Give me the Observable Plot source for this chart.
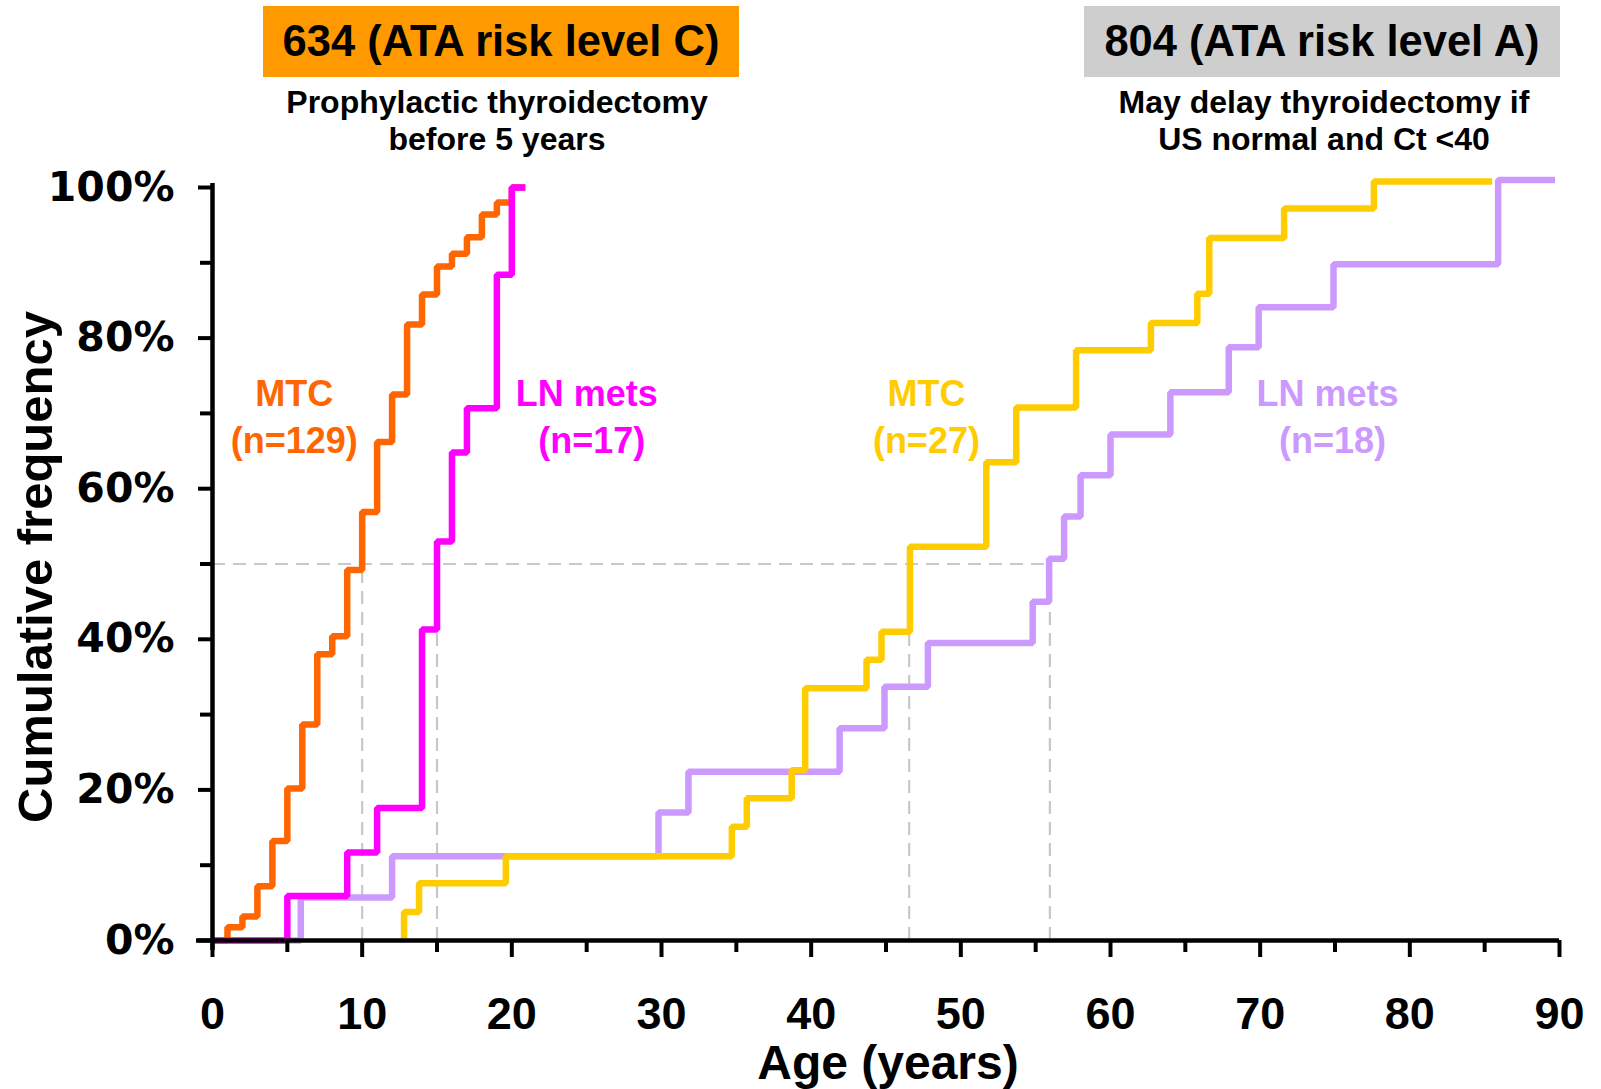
<!DOCTYPE html>
<html>
<head>
<meta charset="utf-8">
<script src="https://cdn.jsdelivr.net/npm/d3@7"></script>
<script src="https://cdn.jsdelivr.net/npm/@observablehq/plot@0.6"></script>
<style>
  html, body { margin: 0; padding: 0; background: #fff; }
  body { font-family: "Liberation Sans", Arial, sans-serif; }
  #wrap { position: relative; width: 1601px; height: 1089px; overflow: hidden; }
  #header { position: relative; width: 1601px; height: 160px; }
  .box { position: absolute; top: 6px; height: 71px; width: 476px; display: flex; align-items: center; justify-content: center;
         font-weight: bold; font-size: 43.5px; color: #000; }
  .sub { position: absolute; top: 84px; width: 560px; text-align: center; font-weight: bold; font-size: 32px; line-height: 37px; color: #000; }
  #chart svg { display: block; }
</style>
</head>
<body>
<div id="wrap">
  <div id="header">
    <div class="box" style="left:263px;background:#FF9900;">634 (ATA risk level C)</div>
    <div class="sub" style="left:217px;">Prophylactic thyroidectomy<br>before 5 years</div>
    <div class="box" style="left:1084px;background:#CECECE;">804 (ATA risk level A)</div>
    <div class="sub" style="left:1044px;">May delay thyroidectomy if<br>US normal and Ct &lt;40</div>
  </div>
  <div id="chart"></div>
</div>
<script>
// ---- Axis ticks ----
const xTicksMajor = [0, 10, 20, 30, 40, 50, 60, 70, 80, 90];
const xTicksMinor = [5, 15, 25, 35, 45, 55, 65, 75, 85];
const yTicksMajor = [0, 20, 40, 60, 80, 100];
const yTicksMinor = [10, 30, 50, 70, 90];

// ---- 634 MTC (n=129), orange ----
const mtc634Start = 0;
const mtc634Ages   = [1, 2, 3, 4, 5, 6, 7, 8, 9, 10, 11, 12, 13, 14, 15, 16, 17, 18, 19, 20];
const mtc634Values = [1.75, 3.2, 7.2, 13.2, 20.2, 28.7, 38.0, 40.4, 49.2, 56.9, 66.2, 72.5, 81.8, 85.8, 89.5, 91.2, 93.4, 96.4, 98.0, 100];
const mtc634End = 20.9;

// ---- 634 LN mets (n=17), magenta ----
const ln634Start = 0;
const ln634Ages   = [5, 9, 11, 14, 15, 16, 17, 19, 20];
const ln634Values = [5.9, 11.7, 17.6, 41.3, 53.0, 64.8, 70.7, 88.4, 100];
const ln634End = 20.9;

// ---- 804 MTC (n=27), yellow ----
const mtc804Start = 12.8;
const mtc804Ages   = [12.8, 13.8, 19.6, 34.7, 35.7, 38.7, 39.6, 43.7, 44.7, 46.6, 51.7, 53.7, 57.7, 62.7, 65.8, 66.6, 71.6, 77.6];
const mtc804Values = [3.8, 7.6, 11.2, 15.1, 18.9, 22.6, 33.5, 37.3, 41.0, 52.3, 63.5, 70.8, 78.4, 82.0, 85.9, 93.3, 97.2, 100.8];
const mtc804End = 85.5;

// ---- 804 LN mets (n=18), lavender ----
const ln804Start = 0;
const ln804Ages   = [5.9, 12, 29.8, 31.8, 41.9, 44.9, 47.8, 54.8, 55.9, 56.9, 58, 60, 64, 67.9, 69.9, 74.9, 85.9];
const ln804Values = [5.7, 11.2, 17.0, 22.4, 28.2, 33.7, 39.5, 45.0, 50.7, 56.3, 61.8, 67.2, 72.8, 78.8, 84.1, 89.8, 101.0];
const ln804End = 89.7;

// ---- Median reference lines ----
const medianPct = 50;
const medianAges = [10, 15, 46.55, 55.95];

// ---- Curve labels ----
const labelTexts  = ["MTC\n(n=129)", "LN mets\n (n=17)", "MTC\n(n=27)", "LN mets\n (n=18)"];
const labelAges   = [5.46, 25.0, 47.7, 74.5];
const labelPcts   = [69.9, 69.9, 69.9, 69.9];
const labelColors = ["#FF6600", "#FF00FF", "#FFCC00", "#CC99FF"];

const colors = { mtc634: "#FF6600", ln634: "#FF00FF", mtc804: "#FFCC00", ln804: "#CC99FF" };

function stepRows(start, ages, values, end) {
  const rows = [{age: start, pct: 0}];
  ages.forEach((a, i) => rows.push({age: a, pct: values[i]}));
  rows.push({age: end, pct: values[values.length - 1]});
  return rows;
}

const rowsMtc634 = stepRows(mtc634Start, mtc634Ages, mtc634Values, mtc634End);
const rowsLn634  = stepRows(ln634Start, ln634Ages, ln634Values, ln634End);
const rowsMtc804 = stepRows(mtc804Start, mtc804Ages, mtc804Values, mtc804End);
const rowsLn804  = stepRows(ln804Start, ln804Ages, ln804Values, ln804End);

const labels = labelTexts.map((t, i) => ({text: t, age: labelAges[i], pct: labelPcts[i], color: labelColors[i]}));

const lineOpts = {x: "age", y: "pct", curve: "step-after", strokeWidth: 6.5, strokeLinejoin: "miter", strokeLinecap: "butt"};
const dash = {stroke: "#C8C8C8", strokeWidth: 2.2, strokeDasharray: "13,8"};

const chart = Plot.plot({
  width: 1601,
  height: 929,
  marginLeft: 212,
  marginRight: 42,
  marginTop: 27,
  marginBottom: 149,
  x: {domain: [0, 90]},
  y: {domain: [0, 100]},
  style: {fontFamily: "Liberation Sans, Arial, sans-serif", background: "white", overflow: "visible", color: "#000"},
  marks: [
    // reference dashed lines
    Plot.ruleY([medianPct], {x1: 0, x2: d3.max(medianAges), ...dash}),
    Plot.ruleX(medianAges, {y1: 0, y2: medianPct, ...dash}),
    // curves
    Plot.line(rowsLn804, {...lineOpts, stroke: colors.ln804}),
    Plot.line(rowsMtc804, {...lineOpts, stroke: colors.mtc804}),
    Plot.line(rowsMtc634, {...lineOpts, stroke: colors.mtc634}),
    Plot.line(rowsLn634, {...lineOpts, stroke: colors.ln634}),
    // labels
    Plot.text(labels, {x: "age", y: "pct", text: "text", fill: "color", fontSize: 36, fontWeight: "bold", lineHeight: 1.3}),
    // axes
    Plot.ruleY([0], {stroke: "#000", strokeWidth: 4.5, insetLeft: -16}),
    Plot.ruleX([0], {stroke: "#000", strokeWidth: 4.5, insetBottom: -10, insetTop: -4}),
    Plot.axisX(xTicksMajor, {tickSize: 17, strokeWidth: 4, tickPadding: 40, fontSize: 45, fontWeight: "bold",
      fontFamily: "Liberation Sans, Arial, sans-serif", label: null}),
    Plot.axisX(xTicksMinor, {tickSize: 12, strokeWidth: 4, tickFormat: () => "", label: null}),
    Plot.axisY(yTicksMajor, {tickSize: 14, strokeWidth: 4, tickPadding: 24, tickFormat: d => d + "%", fontSize: 41,
      fontWeight: "bold", fontFamily: "DejaVu Sans, sans-serif", label: null}),
    Plot.axisY(yTicksMinor, {tickSize: 12, strokeWidth: 4, tickFormat: () => "", label: null}),
    // axis titles
    Plot.text(["Cumulative frequency"], {frameAnchor: "left", textAnchor: "middle", lineAnchor: "middle", rotate: -90, dx: -176, dy: 3, fontSize: 49, fontWeight: "bold"}),
    Plot.text(["Age (years)"], {frameAnchor: "bottom", textAnchor: "middle", lineAnchor: "middle", dx: 2, dy: 123, fontSize: 48, fontWeight: "bold"})
  ]
});
document.getElementById("chart").appendChild(chart);
</script>
</body>
</html>
